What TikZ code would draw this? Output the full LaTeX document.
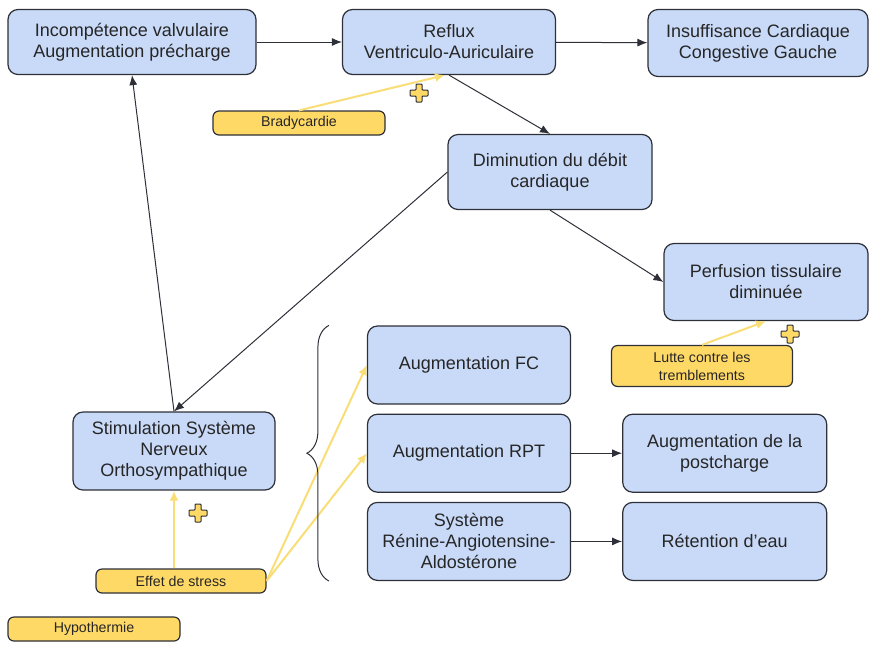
\documentclass[tikz,border=0pt]{standalone}
\usepackage{fontspec}
\setmainfont{Liberation Sans}
\usetikzlibrary{arrows.meta,positioning,calc,decorations.pathreplacing}
\definecolor{cardblue}{RGB}{201,218,248}
\definecolor{cardline}{RGB}{45,48,56}
\definecolor{noteyellow}{RGB}{255,217,102}
\definecolor{arrowyellow}{RGB}{249,221,118}
\tikzset{
  pbox/.style={draw=cardline, fill=cardblue, line width=0.6pt, rounded corners=5pt, align=center,
    minimum width=102pt, minimum height=39pt, inner sep=2pt, text=black!85,
    font=\fontsize{9}{10.5}\selectfont},
  pnote/.style={draw=cardline, fill=noteyellow, line width=0.6pt, rounded corners=3pt, align=center,
    minimum width=86pt, minimum height=12pt, inner sep=1pt, text=black!85,
    font=\fontsize{7.1}{9}\selectfont},
  arr/.style={-{Latex[length=5pt,width=4pt]}, line width=0.5pt, cardline},
  yarr/.style={-{Latex[length=5pt,width=4.5pt]}, line width=1pt, arrowyellow},
  plusmark/.style={draw=cardline, fill=noteyellow, line width=0.5pt, rounded corners=0.4pt}
}
\newcommand{\plusat}[1]{%
  \draw[plusmark,shift={#1}] (-9,-3) -- (-3,-3) -- (-3,-9) -- (3,-9) -- (3,-3) -- (9,-3)
    -- (9,3) -- (3,3) -- (3,9) -- (-3,9) -- (-3,3) -- (-9,3) -- cycle;}

\begin{document}
\begin{tikzpicture}[x=0.5pt,y=-0.5pt]
  \useasboundingbox (0,0) rectangle (878,644);

  % top row
  \node[pbox,minimum width=124pt,minimum height=32.5pt] (incomp) at (132,42)
    {Incompétence valvulaire\\Augmentation précharge};
  \node[pbox,minimum width=106.5pt,minimum height=32.5pt] (reflux) at (449,42)
    {Reflux\\Ventriculo-Auriculaire};
  \node[pbox,minimum width=110pt,minimum height=33.5pt] (icg) at (758,43)
    {Insuffisance Cardiaque\\Congestive Gauche};

  \node[pbox,minimum height=37.5pt] (debit) at (550,172) {Diminution du débit\\cardiaque};
  \node[pbox,minimum height=38.5pt] (perf) at (766,282) {Perfusion tissulaire\\diminuée};
  \node[pbox,minimum width=101pt] (stim) at (174,451)
    {Stimulation Système\\Nerveux\\Orthosympathique};

  % compensations
  \node[pbox,minimum width=101.5pt] (fc) at (469,365) {Augmentation FC};
  \node[pbox,minimum width=101.5pt,below=4.5pt of fc] (rpt) {Augmentation RPT};
  \node[pbox,minimum width=101.5pt,below=4.5pt of rpt] (raa) {Système\\Rénine-Angiotensine-\\Aldostérone};
  \node[pbox,right=25.5pt of rpt] (post) {Augmentation de la\\postcharge};
  \node[pbox,right=25.5pt of raa] (eau) {Rétention d’eau};

  % facteurs
  \node[pnote] (brady) at (299,123) {Bradycardie};
  \node[pnote,minimum width=90.5pt,minimum height=20.5pt] (lutte) at (702,366)
    {Lutte contre les\\tremblements};
  \node[pnote,minimum width=85pt] (stress) at (181,581) {Effet de stress};
  \node[pnote] (hypo) at (94,629) {Hypothermie};

  \draw[arr] (incomp) -- (reflux);
  \draw[arr] (reflux) -- (icg);
  \draw[arr] (reflux.south) -- (debit.north);
  \draw[arr] (debit.south) -- (perf.west);
  \draw[arr] (debit.west) -- (stim.north);
  \draw[arr] (stim.north) -- (incomp.south);
  \draw[arr] (rpt) -- (post);
  \draw[arr] (raa) -- (eau);

  \draw[yarr] (brady.north) -- ([xshift=-2pt]reflux.south);
  \draw[yarr] (lutte.north) -- (perf.south);
  \draw[yarr] (stress.north -| stim.south) -- (stim.south);
  \draw[yarr] (stress.east) -- (fc.west);
  \draw[yarr] (stress.east) -- (rpt.west);

  \coordinate (bt) at ($(fc.north west)+(-38,0)$);
  \coordinate (bb) at ($(raa.south west)+(-38,0)$);
  \draw[cardline,line width=0.5pt,decorate,decoration={brace,amplitude=11pt}] (bb) -- (bt);

  \plusat{(419,93)}
  \plusat{(790,334)}
  \plusat{(198,513)}
\end{tikzpicture}
\end{document}
